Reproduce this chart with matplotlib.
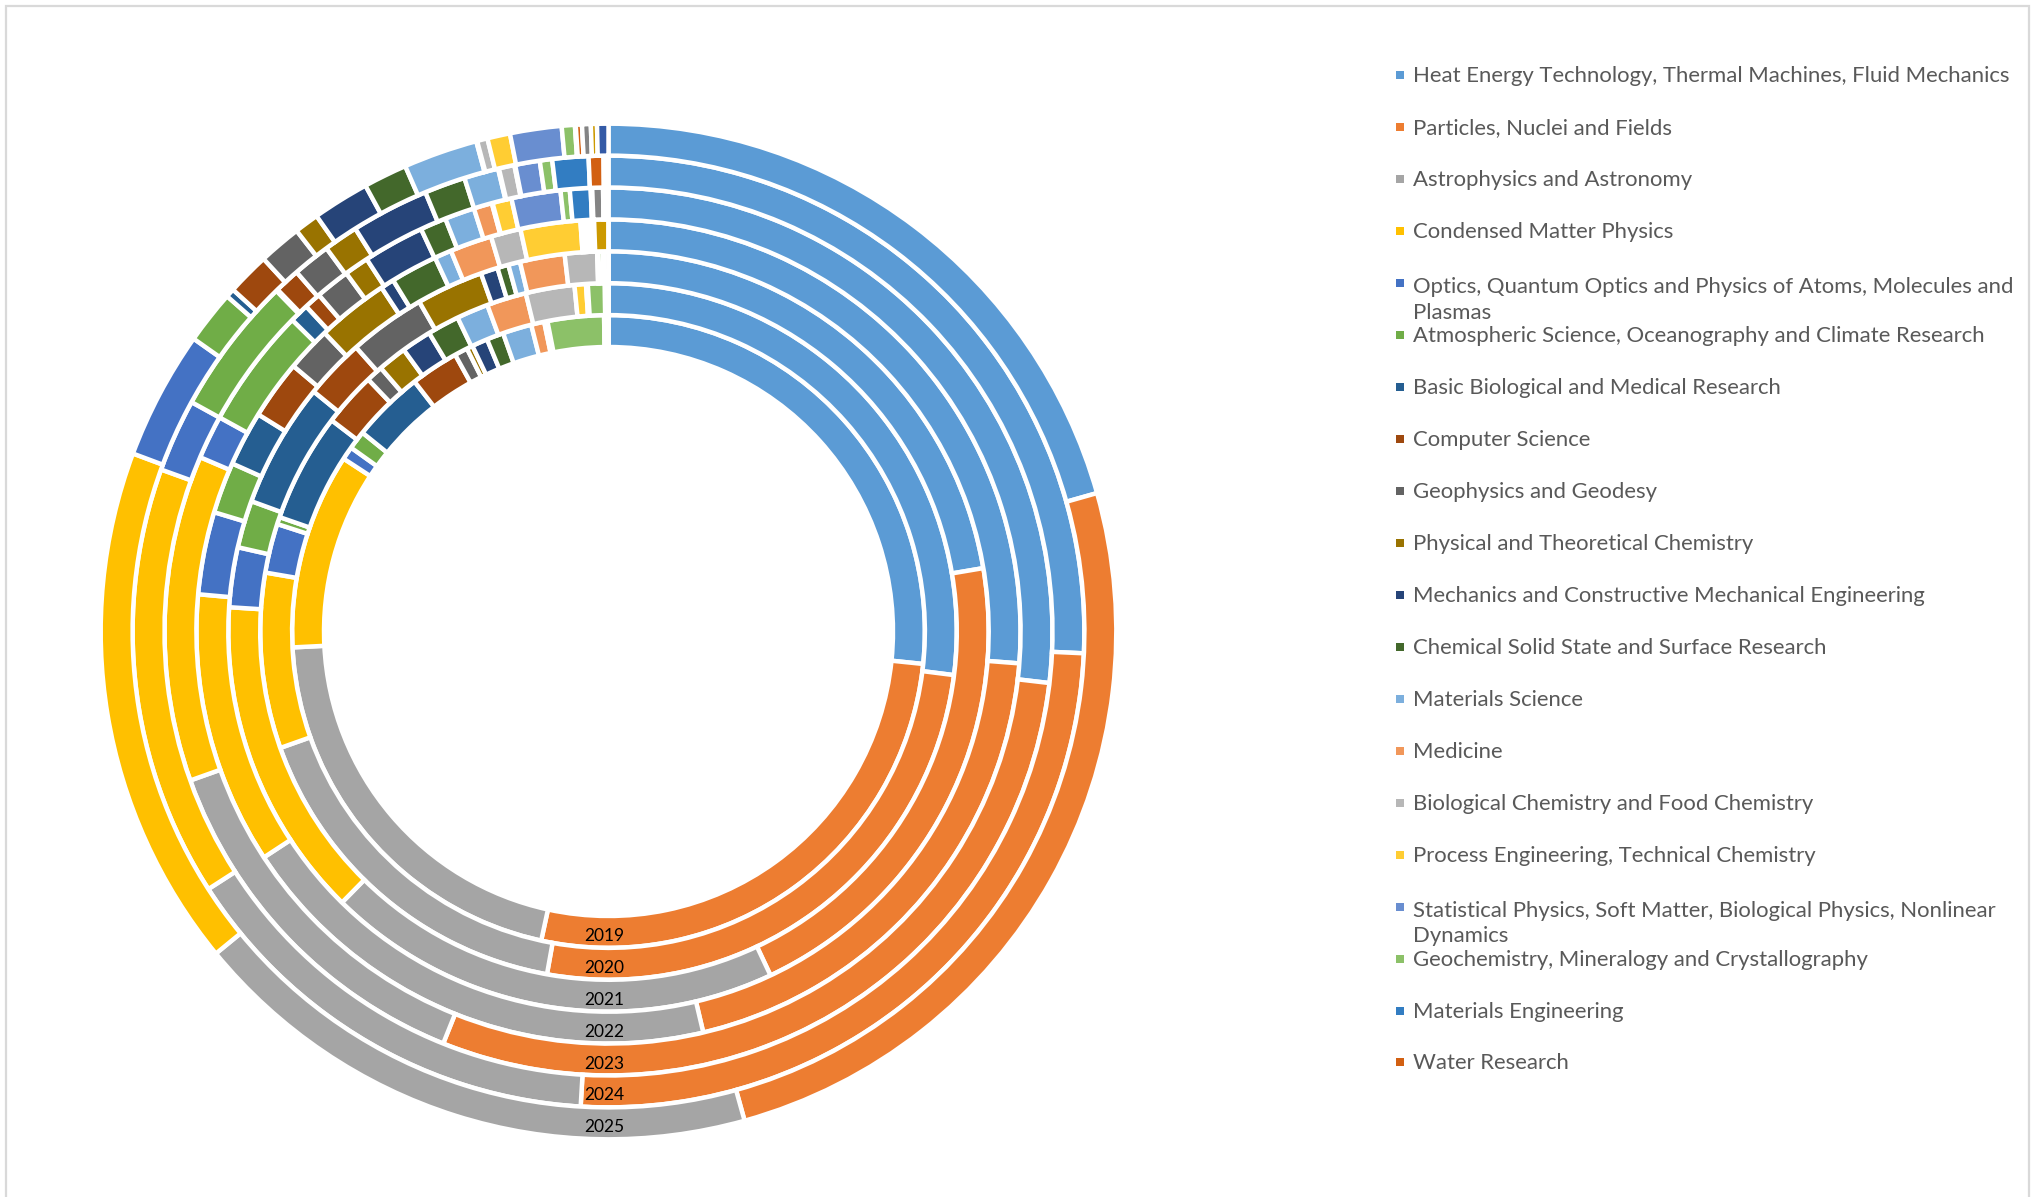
import matplotlib.pyplot as plt
from matplotlib.patches import Rectangle

plt.rcParams['font.family'] = ['Lato', 'DejaVu Sans']

categories = [
    'Heat Energy Technology, Thermal Machines, Fluid Mechanics',
    'Particles, Nuclei and Fields',
    'Astrophysics and Astronomy',
    'Condensed Matter Physics',
    'Optics, Quantum Optics and Physics of Atoms, Molecules and\nPlasmas',
    'Atmospheric Science, Oceanography and Climate Research',
    'Basic Biological and Medical Research',
    'Computer Science',
    'Geophysics and Geodesy',
    'Physical and Theoretical Chemistry',
    'Mechanics and Constructive Mechanical Engineering',
    'Chemical Solid State and Surface Research',
    'Materials Science',
    'Medicine',
    'Biological Chemistry and Food Chemistry',
    'Process Engineering, Technical Chemistry',
    'Statistical Physics, Soft Matter, Biological Physics, Nonlinear\nDynamics',
    'Geochemistry, Mineralogy and Crystallography',
    'Materials Engineering',
    'Water Research',
]
# 20 legend colours + 3 small trailing slices that the legend does not show
colors = ['#5B9BD5', '#ED7D31', '#A5A5A5', '#FFC000', '#4472C4', '#70AD47',
          '#255E91', '#9E480E', '#636363', '#997300', '#264478', '#43682B',
          '#7CAFDD', '#F1975A', '#B7B7B7', '#FFCD33', '#698ED0', '#8CC168',
          '#327DC2', '#D26012', '#848484', '#CC9900', '#335AA6']

years = ['2019', '2020', '2021', '2022', '2023', '2024', '2025']

# shares per ring (read as angles off the chart, same order as colors)
s2019 = [95.6, 96.1, 74.6, 35.9, 2.4, 3.4, 13.2, 8.8, 2.4, 1.1, 2.9, 3.1,
         5.3, 2.4, 0.2, 0.2, 0.2, 10.3, 0.4, 0.4, 0, 0, 0]
s2020 = [96.9, 92.7, 60.1, 29.2, 8.2, 1.2, 18.1, 9.0, 2.8, 4.8, 5.0, 5.3,
         5.3, 6.6, 8.1, 1.9, 0.3, 2.8, 0.3, 0.3, 0, 0, 0]
s2021 = [80.0, 74.0, 69.4, 48.9, 9.1, 7.2, 19.0, 9.2, 11.7, 10.2, 2.6, 1.7,
         1.8, 6.8, 4.9, 0.1, 0.1, 0.7, 0.1, 0.7, 0, 0, 0]
s2022 = [94.1, 72.0, 69.8, 38.3, 11.6, 7.2, 7.7, 8.3, 6.3, 10.1, 1.9, 6.6,
         2.4, 5.9, 4.2, 8.4, 0.1, 0.5, 0.1, 0.6, 0.6, 2.0, 0]
s2023 = [96.4, 104.9, 48.4, 42.6, 5.7, 15.7, 2.5, 2.2, 4.5, 3.2, 8.0, 3.4,
         3.9, 2.4, 0.1, 2.5, 6.4, 1.2, 2.7, 0.2, 1.4, 0.5, 0.2]
s2024 = [92.5, 90.6, 53.8, 52.6, 8.9, 16.9, 0.2, 3.1, 4.6, 4.2, 9.5, 5.0,
         4.2, 0.1, 1.9, 0.1, 3.0, 1.5, 4.4, 1.8, 0.2, 0.2, 0.2]
s2025 = [74.2, 90.3, 66.2, 59.9, 14.7, 6.1, 1.0, 4.9, 4.9, 2.8, 6.5, 5.0,
         8.5, 0.1, 1.2, 2.6, 5.9, 1.5, 0.1, 0.7, 1.0, 0.7, 1.3]
rings = [s2019, s2020, s2021, s2022, s2023, s2024, s2025]

W, H = 2038, 1197
fig = plt.figure(figsize=(W / 100, H / 100), dpi=100)
ax = fig.add_axes([0, 0, 1, 1])

cx, cy = 608.5, H - 631.5
r0, dr = 284.5, 31.9

for i, vals in enumerate(rings):
    ax.pie(vals, colors=colors, radius=r0 + dr * (i + 1), center=(cx, cy),
           startangle=90, counterclock=False,
           wedgeprops=dict(width=dr, edgecolor='white', linewidth=3.2))
    ax.text(cx - 4.5, cy - (r0 + dr * (i + 0.5)) - 4, years[i], ha='center',
            va='center', fontsize=12.5, color='black')

# legend, drawn entry by entry like the Excel one
y0, dy = 75.4, 51.95
line_h = 28.6
for i, lbl in enumerate(categories):
    yi = H - (y0 + dy * i)
    nl = lbl.count('\n')
    ax.add_patch(Rectangle((1396, yi - 4), 8, 8, color=colors[i], lw=0))
    ax.text(1413, yi - 7 - nl * line_h, lbl, ha='left', va='baseline',
            fontsize=15.9, color='#595959', linespacing=1.35)

ax.add_patch(Rectangle((6, -10), 2023, H - 6 + 10, fill=False,
                       edgecolor='#D9D9D9', lw=1.6))

ax.set_xlim(0, W)
ax.set_ylim(0, H)
ax.axis('off')

fig.savefig('out.png', dpi=100, facecolor='white')
